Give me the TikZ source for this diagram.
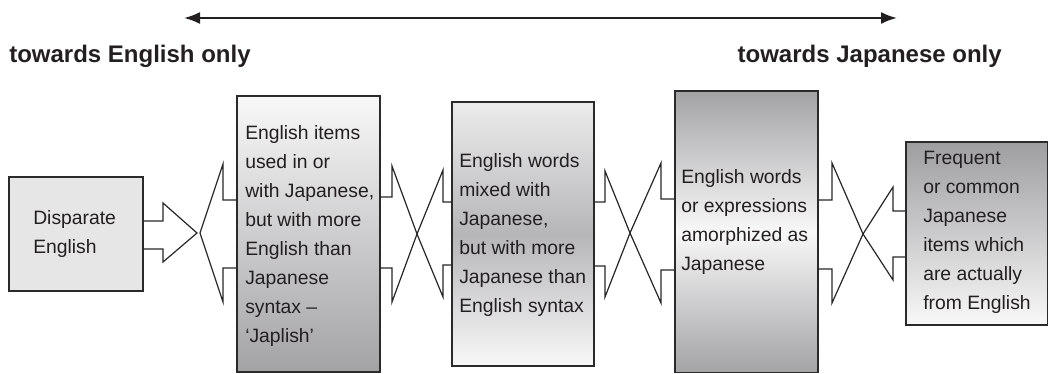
\documentclass[tikz,border=0pt]{standalone}
\usepackage{fontspec}
\setmainfont{Liberation Sans}
\usetikzlibrary{arrows.meta,fit}
\definecolor{boxline}{HTML}{2A2A2A}
\definecolor{txtc}{HTML}{231F20}
\definecolor{flatgray}{HTML}{E6E6E6}
\definecolor{lightend}{HTML}{F8F8F8}
\definecolor{darkend}{HTML}{A3A3A6}
\definecolor{midgray}{HTML}{B6B6B9}
\begin{document}
\begin{tikzpicture}[x=0.75pt,y=-0.75pt,
  box/.style={draw=boxline,line width=1.3pt,inner sep=0pt},
  blk/.style={draw=black!85,line width=0.9pt,line join=miter},
  txt/.style={font=\fontsize{14.5}{21.75}\selectfont,align=left,inner sep=0pt,anchor=west,text=txtc},
  ttl/.style={font=\fontsize{18}{21}\selectfont\bfseries,inner sep=0pt,text=txtc}]
\useasboundingbox (0,0) rectangle (1049,374);

% scale arrow
\coordinate (L) at (184,18);
\coordinate (R) at (897,18);
\draw[{Latex[length=12pt,width=9pt]}-{Latex[length=12pt,width=9pt]},line width=1.5pt,draw=txtc] (L) -- (R);
\node[ttl,anchor=base west] (tl) at (9,63) {towards English only};
\node[ttl,anchor=base east] (tr) at (1002,63) {towards Japanese only};

% boxes
\node[box,fill=flatgray,fit={(9,177)(143,291)}] (b1) {};
\node[box,top color=lightend,bottom color=darkend,fit={(237,96)(380,372)}] (b2) {};
\node[box,top color=lightend!95!black,bottom color=lightend,middle color=midgray,fit={(452,102)(594,366)}] (b3) {};
\node[box,top color=darkend,bottom color=darkend,middle color=lightend,fit={(675,91)(818,372.5)}] (b4) {};
\node[box,top color=darkend!97!black,bottom color=lightend,fit={(906,142)(1047.5,325)}] (b5) {};

% texts
\node[txt] (t1) at (33,234) {Disparate\\English};
\node[txt] (t2) at (245,236) {English items\\used in or\\with Japanese,\\but with more\\English than\\Japanese\\syntax –\\‘Japlish’};
\node[txt] (t3) at (459,235) {English words\\mixed with\\Japanese,\\but with more\\Japanese than\\English syntax};
\node[txt] (t4) at (681,222.5) {English words\\or expressions\\amorphized as\\Japanese};
\node[txt] (t5) at (923,232) {Frequent\\or common\\Japanese\\items which\\are actually\\from English};

% block arrows between boxes
\draw[blk] (b1.east |- 0,221) -- (163,221) -- (163,203) -- (197,233) -- (163,262) -- (163,249) -- (b1.east |- 0,249);
\draw[blk] (b2.west |- 0,200) -- (223,200) -- (223,164) -- (200,233) -- (223,302) -- (223,268) -- (b2.west |- 0,268);

\draw[blk] (b2.east |- 0,197) -- (392,197) -- (392,166) -- (417,234) -- (392,302) -- (392,268) -- (b2.east |- 0,268);
\draw[blk] (b3.west |- 0,202) -- (443,202) -- (443,170) -- (417,234) -- (443,297) -- (443,265) -- (b3.west |- 0,265);

\draw[blk] (b3.east |- 0,202) -- (605,202) -- (605,171) -- (630,233) -- (605,297) -- (605,266) -- (b3.east |- 0,266);
\draw[blk] (b4.west |- 0,199) -- (661,199) -- (661,163) -- (630,233) -- (661,303) -- (661,270) -- (b4.west |- 0,270);

\draw[blk] (b4.east |- 0,200) -- (832,200) -- (832,163) -- (863,234) -- (832,303) -- (832,269) -- (b4.east |- 0,269);
\draw[blk] (b5.west |- 0,211) -- (893,211) -- (893,187) -- (863,234) -- (893,280) -- (893,257) -- (b5.west |- 0,257);
\end{tikzpicture}
\end{document}
